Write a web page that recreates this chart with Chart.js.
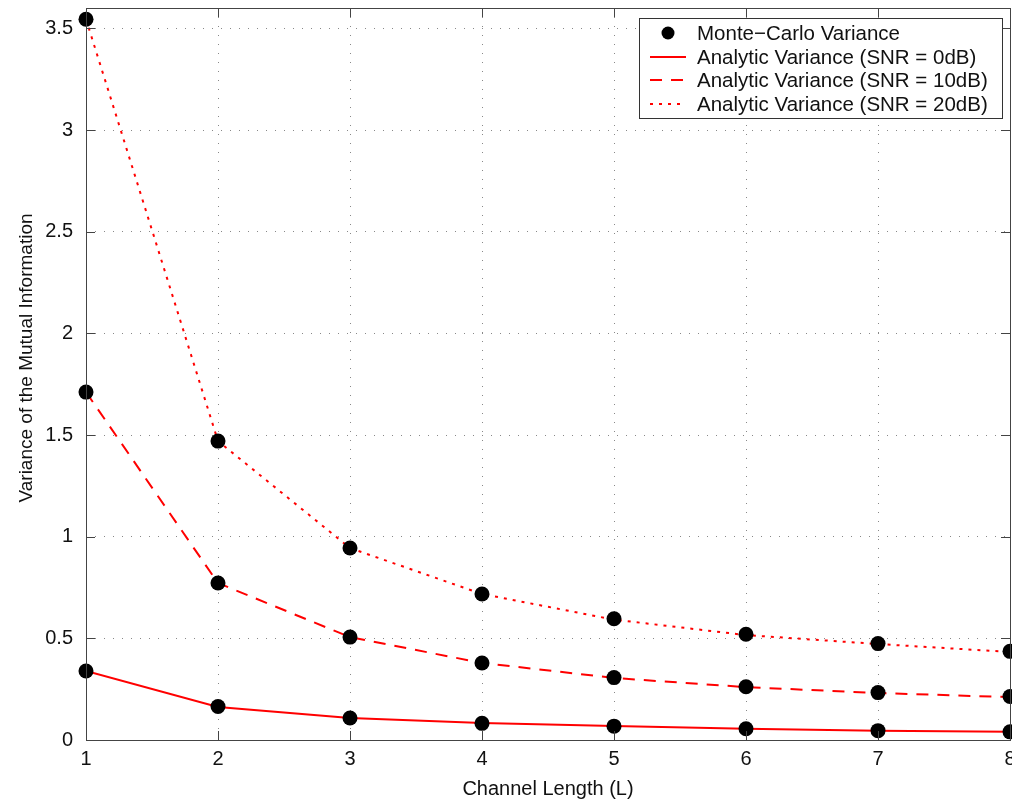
<!DOCTYPE html>
<html>
<head>
<meta charset="utf-8">
<script src="https://cdn.jsdelivr.net/npm/chart.js"></script>
<style>
  html, body { margin: 0; padding: 0; background: #fff; }
  #wrap { width: 1012px; height: 804px; }
</style>
</head>
<body>
<div id="wrap"><canvas id="chart" width="1012" height="804"></canvas></div>
<script>
// Channel length L
const channelLength = [1, 2, 3, 4, 5, 6, 7, 8];

// Analytic variance curves
const snr0 = [0.339, 0.162, 0.108, 0.084, 0.069, 0.055, 0.045, 0.040];
const snr10 = [1.711, 0.772, 0.506, 0.379, 0.305, 0.260, 0.231, 0.211];
const snr20 = [3.545, 1.470, 0.944, 0.718, 0.592, 0.516, 0.472, 0.433];

// Monte-Carlo points (sit on the curves)
const mc0 = [0.339, 0.165, 0.108, 0.082, 0.068, 0.055, 0.046, 0.040];
const mc10 = [1.711, 0.772, 0.506, 0.379, 0.307, 0.262, 0.233, 0.214];
const mc20 = [3.545, 1.470, 0.944, 0.718, 0.596, 0.520, 0.474, 0.436];

const yTicks = [0, 0.5, 1, 1.5, 2, 2.5, 3, 3.5];

const legendLabels = [
  'Monte\u2212Carlo Variance',
  'Analytic Variance (SNR = 0dB)',
  'Analytic Variance (SNR = 10dB)',
  'Analytic Variance (SNR = 20dB)'
];

const yTitle = 'Variance of the Mutual Information';

const FONT = '"Liberation Sans", Arial, Helvetica, sans-serif';

function toPoints(ys) {
  return channelLength.map((x, i) => ({ x: x, y: ys[i] }));
}

const mcPoints = toPoints(mc0).concat(toPoints(mc10), toPoints(mc20));

// Inward tick marks, frame, y title and legend box
const framePlugin = {
  id: 'frame',
  afterDatasetsDraw(chart) {
    const { ctx, chartArea: a, scales } = chart;
    ctx.save();
    ctx.strokeStyle = '#444';
    ctx.lineWidth = 1;
    ctx.beginPath();
    yTicks.forEach(v => {
      const y = Math.round(scales.y.getPixelForValue(v)) + 0.5;
      ctx.moveTo(a.left, y); ctx.lineTo(a.left + 9, y);
      ctx.moveTo(a.right, y); ctx.lineTo(a.right - 9, y);
    });
    channelLength.forEach(v => {
      const x = Math.round(scales.x.getPixelForValue(v)) + 0.5;
      ctx.moveTo(x, a.bottom); ctx.lineTo(x, a.bottom - 9);
      ctx.moveTo(x, a.top); ctx.lineTo(x, a.top + 9);
    });
    ctx.stroke();
    ctx.strokeRect(Math.round(a.left) + 0.5, Math.round(a.top) + 0.5,
      Math.round(a.right - a.left), Math.round(a.bottom - a.top));
    ctx.restore();
  },
  afterDraw(chart) {
    const { ctx } = chart;
    ctx.save();
    // y axis title
    ctx.translate(27, 358);
    ctx.rotate(-Math.PI / 2);
    ctx.font = '19px ' + FONT;
    ctx.fillStyle = '#111';
    ctx.textAlign = 'center';
    ctx.textBaseline = 'middle';
    ctx.fillText(yTitle, 0, 0);
    ctx.restore();

    // legend box in the upper right of the plot
    const bx = 639.5, by = 18.5, bw = 363, bh = 100;
    ctx.save();
    ctx.fillStyle = '#fff';
    ctx.fillRect(bx, by, bw, bh);
    ctx.strokeStyle = '#333';
    ctx.lineWidth = 1;
    ctx.strokeRect(bx, by, bw, bh);
    ctx.font = '20.5px ' + FONT;
    ctx.textBaseline = 'middle';
    const rows = [33, 57, 80, 104];
    const ds = chart.data.datasets;
    rows.forEach((ry, i) => {
      const d = ds[i];
      if (i === 0) {
        ctx.fillStyle = '#000';
        ctx.beginPath();
        ctx.arc(668, ry, 6.5, 0, Math.PI * 2);
        ctx.fill();
      } else {
        ctx.strokeStyle = d.borderColor;
        ctx.lineWidth = d.borderWidth;
        ctx.setLineDash(d.borderDash || []);
        ctx.beginPath();
        ctx.moveTo(650, ry); ctx.lineTo(686, ry);
        ctx.stroke();
        ctx.setLineDash([]);
      }
      ctx.fillStyle = '#111';
      ctx.fillText(legendLabels[i], 697, ry + 1);
    });
    ctx.restore();
  }
};

new Chart(document.getElementById('chart'), {
  type: 'line',
  data: {
    datasets: [
      {
        label: legendLabels[0],
        data: mcPoints,
        showLine: false,
        clip: false,
        pointRadius: 7.5,
        pointBackgroundColor: '#000',
        pointBorderColor: '#000',
        pointBorderWidth: 0
      },
      {
        label: legendLabels[1],
        data: toPoints(snr0),
        borderColor: '#ff0000',
        borderWidth: 2,
        pointRadius: 0,
        tension: 0
      },
      {
        label: legendLabels[2],
        data: toPoints(snr10),
        borderColor: '#ff0000',
        borderWidth: 2,
        borderDash: [12, 9],
        pointRadius: 0,
        tension: 0
      },
      {
        label: legendLabels[3],
        data: toPoints(snr20),
        borderColor: '#ff0000',
        borderWidth: 2,
        borderDash: [3, 6],
        pointRadius: 0,
        tension: 0
      }
    ]
  },
  options: {
    responsive: false,
    animation: false,
    events: [],
    layout: { autoPadding: false, padding: { top: 8, right: 2, left: 0, bottom: 0 } },
    plugins: {
      legend: { display: false },
      tooltip: { enabled: false }
    },
    scales: {
      x: {
        type: 'linear',
        min: 1,
        max: 8,
        afterFit: s => { s.height = 64; s.paddingLeft = 0; s.paddingRight = 0; },
        afterBuildTicks: s => { s.ticks = channelLength.map(v => ({ value: v })); },
        ticks: {
          color: '#111',
          font: { family: FONT, size: 20 },
          padding: 7,
          maxRotation: 0
        },
        grid: { color: '#888', lineWidth: 1, drawTicks: false },
        border: { display: false, dash: [1, 8] },
        title: {
          display: true,
          text: 'Channel Length (L)',
          color: '#111',
          font: { family: FONT, size: 20 },
          padding: { top: 4, bottom: 3 }
        }
      },
      y: {
        min: 0,
        max: 3.6,
        afterFit: s => { s.width = 86; s.paddingTop = 0; s.paddingBottom = 0; },
        afterBuildTicks: s => { s.ticks = yTicks.map(v => ({ value: v })); },
        ticks: {
          color: '#111',
          font: { family: FONT, size: 20 },
          padding: 13,
          callback: v => String(v)
        },
        grid: { color: '#888', lineWidth: 1, drawTicks: false },
        border: { display: false, dash: [1, 8] }
      }
    }
  },
  plugins: [framePlugin]
});
</script>
</body>
</html>
